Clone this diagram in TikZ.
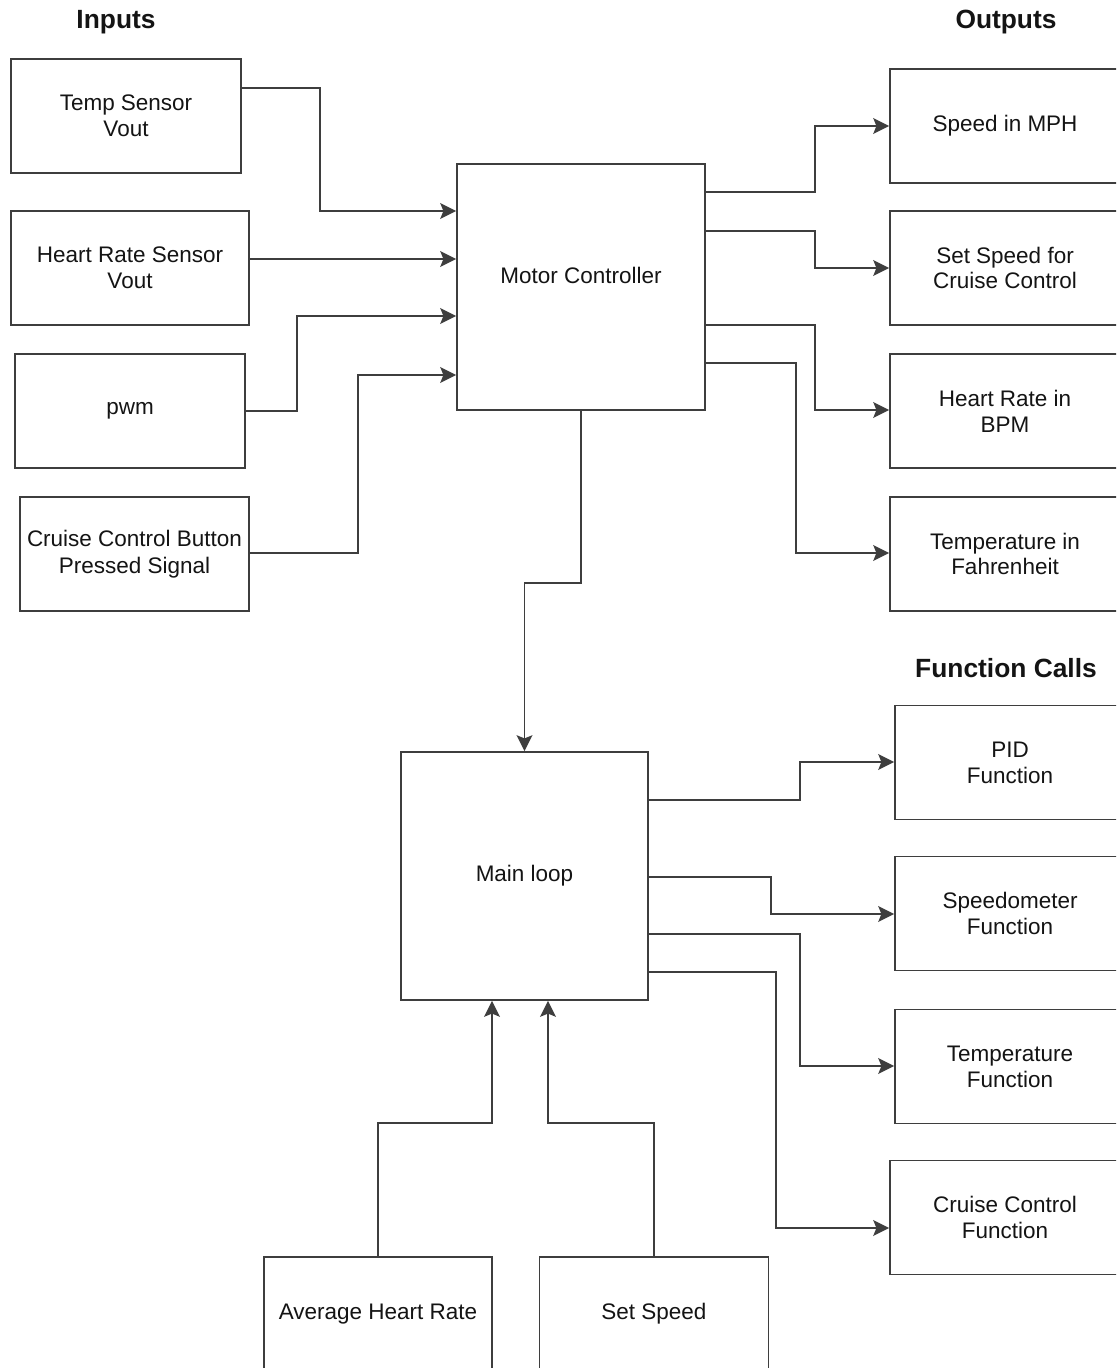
\documentclass[tikz,border=0pt]{standalone}
\usepackage{fontspec}
\setmainfont{Liberation Sans}
\usetikzlibrary{arrows.meta}
\definecolor{edge}{RGB}{62,62,62}
\definecolor{ink}{RGB}{20,20,20}

\begin{document}
\begin{tikzpicture}[x=0.02cm,y=-0.02cm,
    box/.style={draw=edge,line width=1.1pt,minimum width=4.6cm,minimum height=2.28cm,
      align=center,text=ink,font=\fontsize{12.8}{14.7}\selectfont},
    head/.style={text=ink,font=\fontsize{15}{18}\bfseries},
    conn/.style={draw=edge,line width=1pt,-{Stealth[length=9pt,width=9pt,inset=1.8pt]}}]
        \useasboundingbox (0,0) rectangle (1116,1368);
        \clip (0,0) rectangle (1116,1368);
        \fill[white] (0,0) rectangle (1116,1368);
        % headings
        \node[head] (hin) at (116,22) {Inputs};
        \node[head] (hout) at (1006,22) {Outputs};
        \node[head] (hfun) at (1006,668) {Function Calls};
        % inputs
        \node[box] (temp) at (126,116) {Temp Sensor\\Vout};
        \node[box,minimum width=4.76cm] (hrs) at (130,268) {Heart Rate Sensor\\Vout};
        \node[box] (pwm) at (130,411) {pwm};
        \node[box,minimum width=4.58cm] (ccb) at (134.5,554) {Cruise Control Button\\[1pt]Pressed Signal};
        % the two blocks
        \node[box,minimum width=4.96cm,minimum height=4.92cm,
          label={[text=ink,font=\fontsize{12.8}{14.7}\selectfont,yshift=6.8pt]center:Motor Controller}] (mc) at (581,287) {};
        \node[box,minimum width=4.94cm,minimum height=4.96cm] (main) at (524.5,876) {Main loop};
        % outputs
        \node[box] (mph) at (1005,126) {Speed in MPH};
        \node[box] (setsp) at (1005,268) {Set Speed for\\Cruise Control};
        \node[box] (bpm) at (1005,411) {Heart Rate in\\BPM};
        \node[box] (fahr) at (1005,554) {Temperature in\\Fahrenheit};
        % function calls
        \node[box] (pid) at (1010,762.5) {PID\\Function};
        \node[box] (speedo) at (1010,913.5) {Speedometer\\Function};
        \node[box] (tempf) at (1010,1066.5) {Temperature\\Function};
        \node[box] (cruisef) at (1005,1217.5) {Cruise Control\\Function};
        % values fed back
        \node[box,minimum width=4.56cm] (avg) at (378,1314) {Average Heart Rate};
        \node[box,minimum width=4.58cm] (setspeed) at (654,1314) {Set Speed};

        \foreach \src/\ys/\xm/\yd in {temp/88/320/211,hrs/259/350/259,pwm/411/297/316,ccb/553/358/375}
            \draw[conn] (\src.east |- 0,\ys) -- (\xm,\ys) -- (\xm,\yd) -- (mc.west |- 0,\yd);
        \foreach \dst/\ys/\xm/\yd in {mph/192/815/126,setsp/231/815/268,bpm/325/815/410,fahr/363/796/553}
            \draw[conn] (mc.east |- 0,\ys) -- (\xm,\ys) -- (\xm,\yd) -- (\dst.west |- 0,\yd);
        \foreach \dst/\ys/\xm/\yd in {pid/800/800/762,speedo/877/771/914,tempf/934/800/1066,cruisef/972/776/1228}
            \draw[conn] (main.east |- 0,\ys) -- (\xm,\ys) -- (\xm,\yd) -- (\dst.west |- 0,\yd);
        \draw[conn] (mc.south) -- ++(0,172) -| (main.north);
        \draw[conn] (avg.north) -- (378,1123) -| (main.south -| 492,0);
        \draw[conn] (setspeed.north) -- (654,1123) -| (main.south -| 548,0);
      \end{tikzpicture}
\end{document}
